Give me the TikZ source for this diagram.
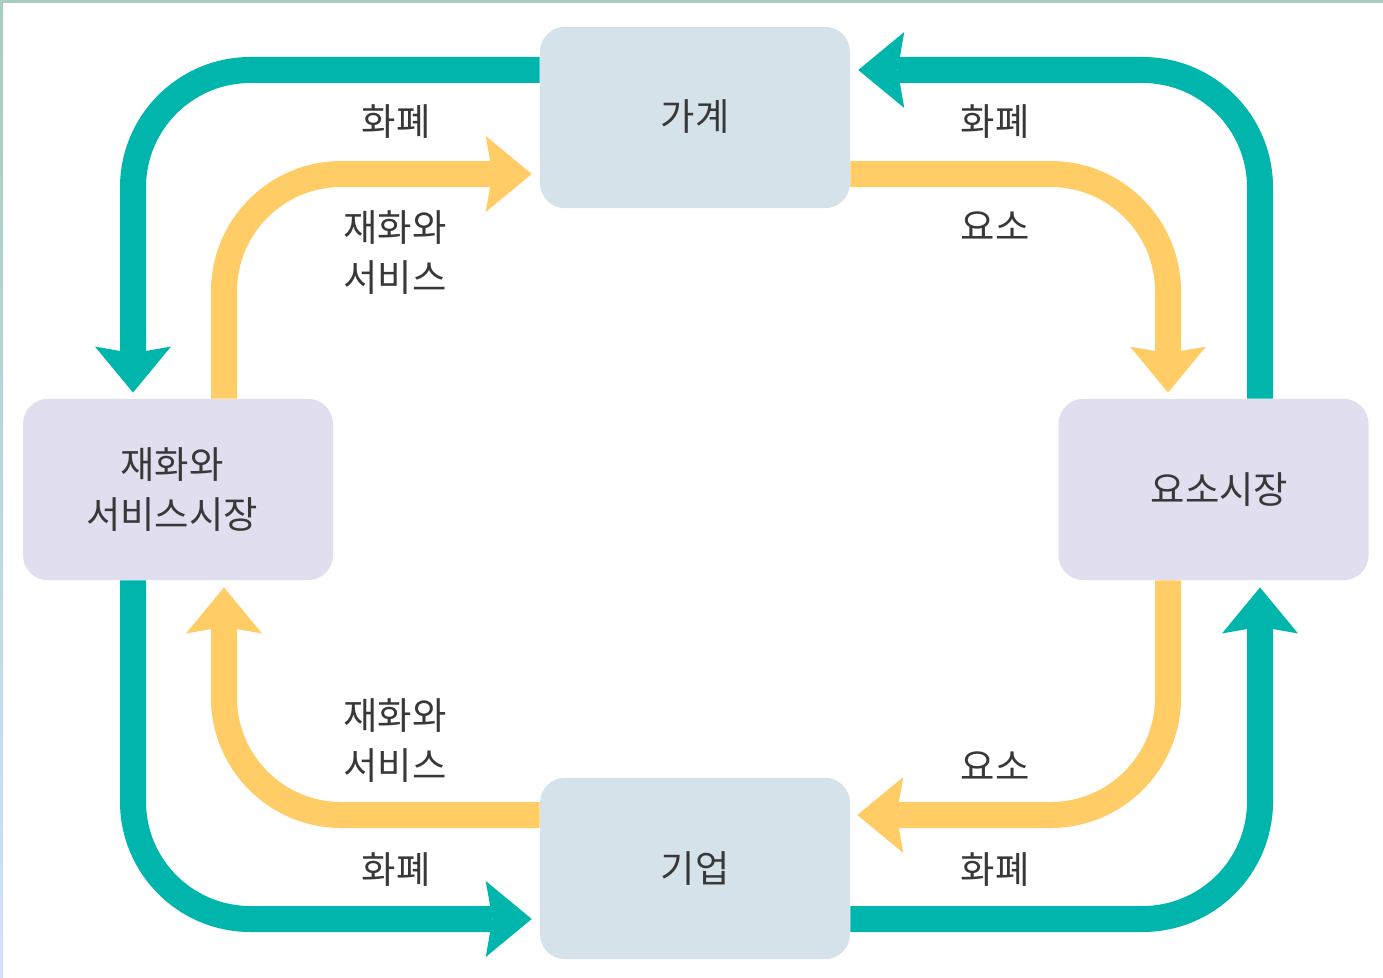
\documentclass[tikz,border=0pt]{standalone}
\usepackage{fontspec}
\setmainfont{Noto Sans CJK KR}
\usetikzlibrary{arrows.meta}
\definecolor{teal1}{HTML}{00B5AC}
\definecolor{yel1}{HTML}{FFCC66}
\definecolor{boxblue}{HTML}{D6E2EA}
\definecolor{boxlav}{HTML}{E0DEEF}
\definecolor{txt}{HTML}{383838}
\definecolor{edgeA}{HTML}{A8CCC0}
\definecolor{edgeB}{HTML}{D2E2FA}
\begin{document}
\begin{tikzpicture}[x=0.75pt,y=-0.75pt,
  box/.style={rounded corners=18.75pt, minimum width=232.5pt, minimum height=136pt, inner sep=0pt, text=txt, font=\fontsize{28pt}{37pt}\selectfont, align=center},
  lbl/.style={text=txt, font=\fontsize{28pt}{37pt}\selectfont, align=center, inner sep=0pt},
  flow/.style={line width=19.5pt, rounded corners=88pt, -{Stealth[length=34.5pt, width=57pt, inset=5pt, line width=0pt]}},
  tflow/.style={flow, draw=teal1},
  yflow/.style={flow, draw=yel1}]
\useasboundingbox (0,0) rectangle (1383,977);
\fill[white] (0,0) rectangle (1383,977);
\shade[top color=edgeA, bottom color=edgeB] (0,0) rectangle (3,977);
\fill[edgeA] (0,0) rectangle (1383,3);
% nodes
\node[box, fill=boxblue] (hh) at (695,117.5) {\raisebox{3pt}{가계}};
\node[box, fill=boxblue] (firm) at (695,868.5) {기업};
\node[box, fill=boxlav] (gm) at (178,489.5) {재화와\hspace*{9pt}\\서비스시장\hspace*{9pt}};
\node[box, fill=boxlav] (fm) at (1213.5,489.5) {\hspace*{9pt}요소시장};
% corner coordinates
\coordinate (tTL) at (133,70);
\coordinate (tTR) at (1260,70);
\coordinate (tBR) at (1260,919);
\coordinate (tBL) at (133,919);
\coordinate (yTL) at (224,174);
\coordinate (yTR) at (1168,174);
\coordinate (yBR) at (1168,815);
\coordinate (yBL) at (224,815);
% teal (money) flows
\draw[tflow, shorten >=4.5pt] (hh.west |- tTL) -- (tTL) -- (tTL |- gm.north);
\draw[tflow, shorten >=6pt] (tTR |- fm.north) -- (tTR) -- (tTR -| hh.east);
\draw[tflow, shorten >=5.25pt] (firm.east |- tBR) -- (tBR) -- (tBR |- fm.south);
\draw[tflow, shorten >=6pt] (tBL |- gm.south) -- (tBL) -- (tBL -| firm.west);
% yellow (goods / factors) flows
\draw[yflow, shorten >=6pt] (yTL |- gm.north) -- (yTL) -- (yTL -| hh.west);
\draw[yflow, shorten >=4.5pt] (hh.east |- yTR) -- (yTR) -- (yTR |- fm.north);
\draw[yflow, shorten >=5.25pt] (yBR |- fm.south) -- (yBR) -- (yBR -| firm.east);
\draw[yflow, shorten >=5.25pt] (firm.west |- yBL) -- (yBL) -- (yBL |- gm.south);
% labels
\node[lbl] (l1) at (396,122) {화폐};
\node[lbl] (l2) at (395,252.5) {재화와\\서비스};
\node[lbl] (l3) at (995,122) {화폐};
\node[lbl] (l4) at (995,226) {요소};
\node[lbl] (l5) at (995,766) {요소};
\node[lbl] (l6) at (995,870) {화폐};
\node[lbl] (l7) at (395,740.5) {재화와\\서비스};
\node[lbl] (l8) at (396,870) {화폐};
\end{tikzpicture}
\end{document}
